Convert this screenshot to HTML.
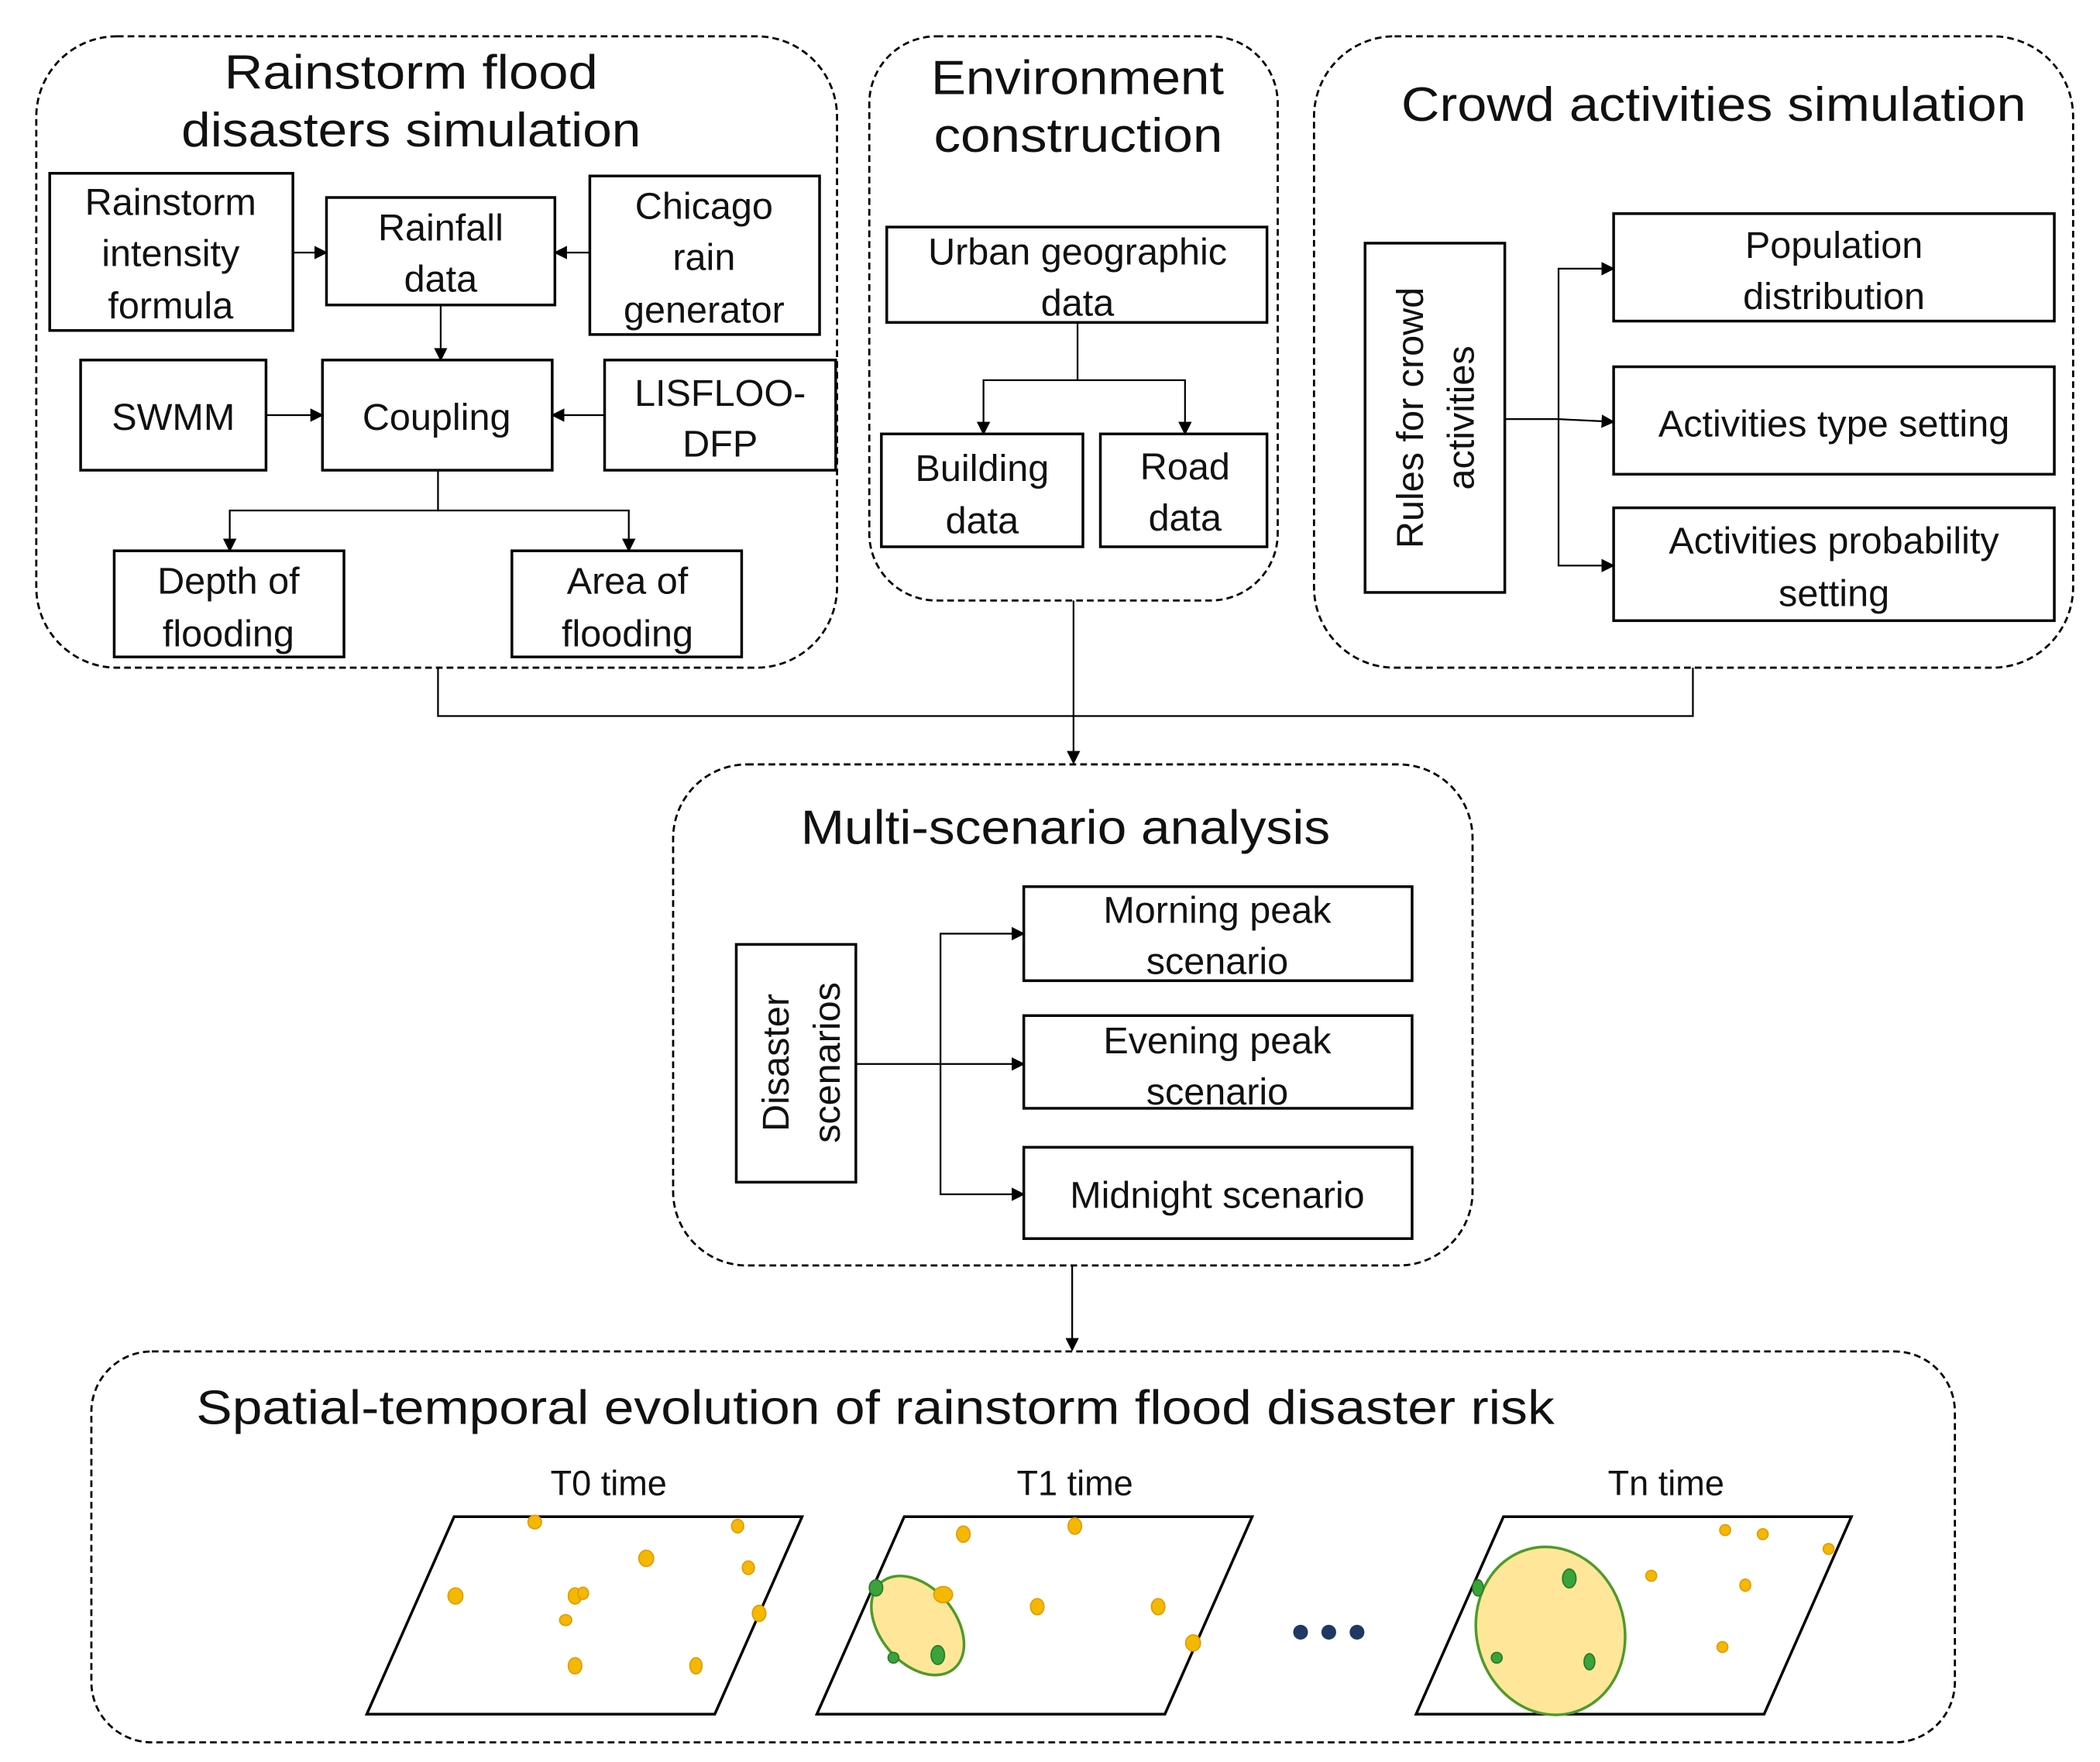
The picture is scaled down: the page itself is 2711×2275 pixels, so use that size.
<!DOCTYPE html>
<html><head><meta charset="utf-8"><style>
html,body{margin:0;padding:0;background:#fff}
svg{display:block}
text{font-family:"Liberation Sans",sans-serif;fill:#111}
</style></head><body>
<svg width="2711" height="2275" viewBox="0 0 1563 1311.6" xmlns="http://www.w3.org/2000/svg">
<defs><marker id="a" markerWidth="10" markerHeight="10" refX="9" refY="5" orient="auto" markerUnits="userSpaceOnUse"><path d="M0,0 L10,5 L0,10 z" fill="#000"/></marker></defs>
<g fill="none" stroke="#000" stroke-width="1.6" stroke-dasharray="5,3">
<rect x="27" y="27" width="596" height="470" rx="60"/>
<rect x="647" y="27" width="304" height="420" rx="50"/>
<rect x="978" y="27" width="565" height="470" rx="60"/>
<rect x="501" y="569" width="595" height="373" rx="55"/>
<rect x="68" y="1006" width="1387" height="291" rx="45"/>
</g>
<g fill="none" stroke="#000" stroke-width="2">
<rect x="37" y="129" width="181" height="117"/>
<rect x="243" y="147" width="170" height="80"/>
<rect x="439" y="131" width="171" height="118"/>
<rect x="60" y="268" width="138" height="82"/>
<rect x="240" y="268" width="171" height="82"/>
<rect x="450" y="268" width="172" height="82"/>
<rect x="85" y="410" width="171" height="79"/>
<rect x="381" y="410" width="171" height="79"/>
<rect x="660" y="169" width="283" height="71"/>
<rect x="656" y="323" width="150" height="84"/>
<rect x="819" y="323" width="124" height="84"/>
<rect x="1016" y="181" width="104" height="260"/>
<rect x="1201" y="159" width="328" height="80"/>
<rect x="1201" y="273" width="328" height="80"/>
<rect x="1201" y="378" width="328" height="84"/>
<rect x="548" y="703" width="89" height="177"/>
<rect x="762" y="660" width="289" height="70"/>
<rect x="762" y="756" width="289" height="69"/>
<rect x="762" y="854" width="289" height="68"/>
</g>
<g fill="none" stroke="#000" stroke-width="1.3">
<path d="M218,188 H243" marker-end="url(#a)"/>
<path d="M439,188 H413" marker-end="url(#a)"/>
<path d="M328,227 V268" marker-end="url(#a)"/>
<path d="M198,309 H240" marker-end="url(#a)"/>
<path d="M450,309 H411" marker-end="url(#a)"/>
<path d="M326,350 V380 H171 V410" marker-end="url(#a)"/>
<path d="M326,380 H468 V410" marker-end="url(#a)"/>
<path d="M802,240 V283 H732 V323" marker-end="url(#a)"/>
<path d="M802,283 H882 V323" marker-end="url(#a)"/>
<path d="M1120,312 H1160"/>
<path d="M1160,312 V200 H1201" marker-end="url(#a)"/>
<path d="M1160,312 L1201,314" marker-end="url(#a)"/>
<path d="M1160,312 V421 H1201" marker-end="url(#a)"/>
<path d="M326,497 V533 H1260 V497"/>
<path d="M799,447 V568" marker-end="url(#a)"/>
<path d="M637,792 H700"/>
<path d="M700,792 V695 H762" marker-end="url(#a)"/>
<path d="M700,792 H762" marker-end="url(#a)"/>
<path d="M700,792 V889 H762" marker-end="url(#a)"/>
<path d="M798,942 V1005" marker-end="url(#a)"/>
</g>
<g font-size="36">
<text x="167" y="66" textLength="278" lengthAdjust="spacingAndGlyphs">Rainstorm flood</text>
<text x="135" y="109" textLength="342" lengthAdjust="spacingAndGlyphs">disasters simulation</text>
<text x="693" y="70" textLength="218" lengthAdjust="spacingAndGlyphs">Environment</text>
<text x="695" y="113" textLength="215" lengthAdjust="spacingAndGlyphs">construction</text>
<text x="1043" y="90" textLength="465" lengthAdjust="spacingAndGlyphs">Crowd activities simulation</text>
<text x="596" y="628" textLength="394" lengthAdjust="spacingAndGlyphs">Multi-scenario analysis</text>
<text x="146" y="1060" textLength="1011" lengthAdjust="spacingAndGlyphs">Spatial-temporal evolution of rainstorm flood disaster risk</text>
</g>
<g font-size="28" text-anchor="middle">
<text x="127" y="160">Rainstorm</text><text x="127" y="198">intensity</text><text x="127" y="237">formula</text>
<text x="328" y="179">Rainfall</text><text x="328" y="217">data</text>
<text x="524" y="163">Chicago</text><text x="524" y="201">rain</text><text x="524" y="240">generator</text>
<text x="129" y="320">SWMM</text>
<text x="325" y="320">Coupling</text>
<text x="536" y="302">LISFLOO-</text><text x="536" y="340">DFP</text>
<text x="170" y="442">Depth of</text><text x="170" y="481">flooding</text>
<text x="467" y="442">Area of</text><text x="467" y="481">flooding</text>
<text x="802" y="197">Urban geographic</text><text x="802" y="235">data</text>
<text x="731" y="358">Building</text><text x="731" y="397">data</text>
<text x="882" y="357">Road</text><text x="882" y="395">data</text>
<text x="1365" y="192">Population</text><text x="1365" y="230">distribution</text>
<text x="1365" y="325">Activities type setting</text>
<text x="1365" y="412">Activities probability</text><text x="1365" y="451">setting</text>
<text x="906" y="687">Morning peak</text><text x="906" y="725">scenario</text>
<text x="906" y="784">Evening peak</text><text x="906" y="822">scenario</text>
<text x="906" y="899">Midnight scenario</text>
<text transform="translate(1059,311) rotate(-90)">Rules for crowd</text>
<text transform="translate(1097,311) rotate(-90)">activities</text>
<text transform="translate(587,791) rotate(-90)">Disaster</text>
<text transform="translate(625,791) rotate(-90)">scenarios</text>
<text x="453" y="1113" font-size="26">T0 time</text>
<text x="800" y="1113" font-size="26">T1 time</text>
<text x="1240" y="1113" font-size="26">Tn time</text>
</g>
<g fill="none" stroke="#000" stroke-width="2">
<path d="M273,1276 L338,1129 H597 L532,1276 Z"/>
<path d="M608,1276 L673,1129 H932 L867,1276 Z"/>
<path d="M1054,1276 L1119,1129 H1378 L1313,1276 Z"/>
</g>
<g fill="#ffe699" stroke="#4e9a2a" stroke-width="2">
<ellipse cx="0" cy="0" rx="28" ry="42" transform="translate(683,1210) rotate(-40)"/>
<ellipse cx="0" cy="0" rx="55" ry="63" transform="translate(1154,1214) rotate(-15)"/>
</g>
<g fill="#f5b800" stroke="#e39b00" stroke-width="1">
<ellipse cx="398" cy="1133" rx="5" ry="5"/><ellipse cx="549" cy="1136" rx="4.5" ry="5"/>
<ellipse cx="481" cy="1160" rx="5.5" ry="6"/><ellipse cx="557" cy="1167" rx="4.5" ry="5"/>
<ellipse cx="339" cy="1188" rx="5.5" ry="6"/><ellipse cx="428" cy="1188" rx="5" ry="6"/>
<ellipse cx="434" cy="1186" rx="4" ry="4.5"/><ellipse cx="421" cy="1206" rx="4.5" ry="4"/>
<ellipse cx="565" cy="1201" rx="5" ry="6"/><ellipse cx="428" cy="1240" rx="5" ry="6"/>
<ellipse cx="518" cy="1240" rx="4.5" ry="6"/>
<ellipse cx="717" cy="1142" rx="5" ry="6"/><ellipse cx="800" cy="1136" rx="5" ry="6"/>
<ellipse cx="702" cy="1187" rx="7" ry="6"/><ellipse cx="772" cy="1196" rx="5" ry="6"/>
<ellipse cx="862" cy="1196" rx="5" ry="6"/><ellipse cx="888" cy="1223" rx="5.5" ry="6"/>
<ellipse cx="1284" cy="1139" rx="4" ry="4"/><ellipse cx="1312" cy="1142" rx="4" ry="4"/>
<ellipse cx="1361" cy="1153" rx="4" ry="4"/><ellipse cx="1229" cy="1173" rx="4" ry="4"/>
<ellipse cx="1299" cy="1180" rx="4" ry="4.5"/><ellipse cx="1282" cy="1226" rx="4" ry="4"/>
</g>
<g fill="#3aa33a" stroke="#2a7a2a" stroke-width="1">
<ellipse cx="652" cy="1182" rx="5" ry="6"/><ellipse cx="698" cy="1232" rx="5" ry="7"/>
<ellipse cx="665" cy="1234" rx="4" ry="4"/>
<ellipse cx="1100" cy="1182" rx="4" ry="6"/><ellipse cx="1168" cy="1175" rx="5" ry="7"/>
<ellipse cx="1114" cy="1234" rx="4" ry="4"/><ellipse cx="1183" cy="1237" rx="4" ry="6"/>
</g>
<g fill="#1f3864">
<circle cx="968" cy="1215" r="5.5"/><circle cx="989" cy="1215" r="5.5"/><circle cx="1010" cy="1215" r="5.5"/>
</g>
</svg>
</body></html>
